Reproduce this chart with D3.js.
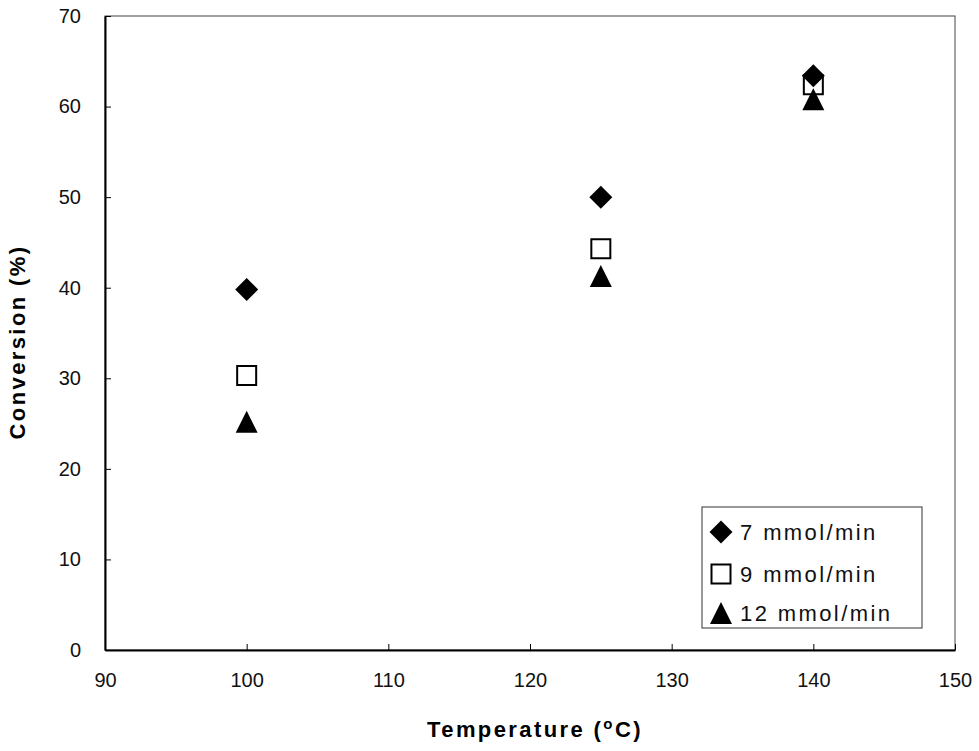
<!DOCTYPE html>
<html>
<head>
<meta charset="utf-8">
<script src="https://cdn.jsdelivr.net/npm/d3@7"></script>
<style>
  body { margin: 0; background: #fff; }
  text { font-family: "Liberation Sans", Arial, sans-serif; }
</style>
</head>
<body>
<div id="chart"></div>
<script>
// data
let temperatures = [100, 125, 140];
let conv7 = [39.8, 50.0, 63.4];
let conv9 = [30.3, 44.3, 62.4];
let conv12 = [25.2, 41.3, 60.8];
let seriesNames = ["7 mmol/min", "9 mmol/min", "12 mmol/min"];
let xTicks = [90, 100, 110, 120, 130, 140, 150];
let yTicks = [0, 10, 20, 30, 40, 50, 60, 70];

scatterChart();

function scatterChart() {

    let margin = { top: 16, right: 24, bottom: 101, left: 105 },
        width = 979 - margin.left - margin.right,
        height = 751 - margin.top - margin.bottom;

    let svg = d3.select("#chart").append("svg")
        .attr("width", 979)
        .attr("height", 751)
        .append("g")
        .attr("transform", "translate(" + margin.left + "," + margin.top + ")");

    let x = d3.scaleLinear().domain([90, 150]).range([0, width]);
    let y = d3.scaleLinear().domain([0, 70]).range([height, 0]);

    // excel-like marker shapes (size = full width in px)
    let diamond = { draw: (c, s) => { let r = s / 2; c.moveTo(0, -r); c.lineTo(r, 0); c.lineTo(0, r); c.lineTo(-r, 0); c.closePath(); } };
    let square = { draw: (c, s) => { let r = s / 2; c.rect(-r, -r, s, s); } };
    let triangle = { draw: (c, s) => { let r = s / 2; c.moveTo(0, -r); c.lineTo(r, r); c.lineTo(-r, r); c.closePath(); } };

    // plot frame (top / right thin)
    svg.append("rect")
        .attr("width", width)
        .attr("height", height)
        .attr("fill", "none")
        .attr("stroke", "#444")
        .attr("stroke-width", 1);

    // x axis, ticks pointing inside
    let xAxis = svg.append("g")
        .attr("transform", "translate(0," + height + ")")
        .call(d3.axisBottom(x).tickValues(xTicks).tickSize(-6).tickPadding(23).tickSizeOuter(0));
    xAxis.select(".domain").attr("stroke", "#000").attr("stroke-width", 2);
    xAxis.selectAll("text")
        .attr("font-family", "Liberation Sans, Arial, sans-serif")
        .attr("font-size", 20).attr("fill", "#111");

    // y axis
    let yAxis = svg.append("g")
        .call(d3.axisLeft(y).tickValues(yTicks).tickSize(-6).tickPadding(24).tickSizeOuter(0));
    yAxis.select(".domain").attr("stroke", "#000").attr("stroke-width", 2);
    yAxis.selectAll("text")
        .attr("font-family", "Liberation Sans, Arial, sans-serif")
        .attr("font-size", 20).attr("fill", "#111");

    let series = [
        { name: seriesNames[0], values: conv7, shape: diamond, size: 23, fill: "#000", stroke: "none" },
        { name: seriesNames[1], values: conv9, shape: square, size: 19, fill: "#fff", stroke: "#000" },
        { name: seriesNames[2], values: conv12, shape: triangle, size: 22, fill: "#000", stroke: "none" }
    ];

    // draw order as in the reference: square below, diamond, then triangle on top
    [1, 0, 2].forEach(k => {
        let s = series[k];
        svg.selectAll(null)
            .data(temperatures.map((t, i) => ({ t: t, v: s.values[i] })))
            .enter()
            .append("path")
            .attr("d", d3.symbol().type(s.shape).size(s.size))
            .attr("transform", d => "translate(" + x(d.t) + "," + y(d.v) + ")")
            .attr("fill", s.fill)
            .attr("stroke", s.stroke)
            .attr("stroke-width", 2);
    });

    // legend
    let legend = svg.append("g")
        .attr("transform", "translate(" + (702 - margin.left) + "," + (507 - margin.top) + ")");
    legend.append("rect")
        .attr("width", 220)
        .attr("height", 121)
        .attr("fill", "#fff")
        .attr("stroke", "#333")
        .attr("stroke-width", 1);
    let rowY = [25, 67, 106];
    series.forEach((s, i) => {
        let row = legend.append("g")
            .attr("transform", "translate(0," + rowY[i] + ")");
        row.append("path")
            .attr("d", d3.symbol().type(s.shape).size(s.size))
            .attr("transform", "translate(19,0)")
            .attr("fill", s.fill)
            .attr("stroke", s.stroke)
            .attr("stroke-width", 2);
        row.append("text")
            .attr("x", 38)
            .attr("dy", "0.36em")
            .style("font-size", "22px")
            .style("letter-spacing", "2.4px")
            .attr("fill", "#111")
            .text(s.name);
    });

    // axis titles
    svg.append("text")
        .attr("x", width / 2 + 5)
        .attr("y", height + 87)
        .attr("text-anchor", "middle")
        .style("font-size", "22px")
        .style("font-weight", "bold")
        .style("letter-spacing", "2.4px")
        .html('Temperature (<tspan baseline-shift="super" font-size="15px">o</tspan>C)');

    svg.append("text")
        .attr("transform", "rotate(-90)")
        .attr("x", -(height / 2) - 9)
        .attr("y", -80)
        .attr("text-anchor", "middle")
        .style("font-size", "22px")
        .style("font-weight", "bold")
        .style("letter-spacing", "2.4px")
        .text("Conversion (%)");
}
</script>
</body>
</html>
